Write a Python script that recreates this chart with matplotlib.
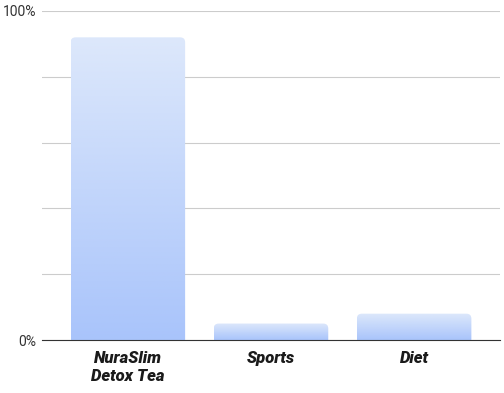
import numpy as np
import matplotlib.pyplot as plt
from matplotlib.patches import FancyBboxPatch
from matplotlib.colors import LinearSegmentedColormap
from matplotlib.ticker import FixedLocator

# data
categories = ['NuraSlim\nDetox Tea', 'Sports', 'Diet']
values = [92, 5, 8]

plt.rcParams['font.family'] = ['Roboto', 'DejaVu Sans']

fig = plt.figure(figsize=(5.04, 3.93), dpi=100)
ax = fig.add_axes([42 / 504, 1 - 340 / 393, 458 / 504, 329 / 393])
ax.set_xlim(-0.6, 2.6)
ax.set_ylim(0, 100)

bars = ax.bar(range(len(values)), values, width=0.8, color='none')

grad = LinearSegmentedColormap.from_list('g', ['#a9c4fb', '#dde8fb'])
# pixels per data unit, to keep rounded corners circular
xpp = 458 / 3.2
ypp = 329 / 100
r = 5 / xpp
for b in bars:
    x0, w, h = b.get_x(), b.get_width(), b.get_height()
    clip = FancyBboxPatch((x0, -10), w, h + 10,
                          boxstyle='round,pad=0,rounding_size=%f' % r,
                          mutation_aspect=xpp / ypp,
                          transform=ax.transData, facecolor='none', edgecolor='none')
    ax.add_patch(clip)
    img = ax.imshow(np.linspace(0, 1, 256).reshape(-1, 1), cmap=grad, origin='lower',
                    extent=[x0, x0 + w, 0, h], aspect='auto', zorder=2)
    img.set_clip_path(clip)

ax.set_xticks(range(len(categories)))
ax.set_xticklabels(categories, fontsize=12, fontweight='heavy', style='italic',
                   color='#1a1a1a', linespacing=1.2)
ax.yaxis.set_major_locator(FixedLocator([0, 20, 40, 60, 80, 100]))
ax.set_yticklabels(['0%', '', '', '', '', '100%'], fontsize=10, color='#333333')
ax.tick_params(axis='both', length=0)
ax.tick_params(axis='x', pad=8)
ax.tick_params(axis='y', pad=4)
ax.grid(axis='y', color='#cccccc', linewidth=0.8)
ax.set_axisbelow(True)
for s in ['top', 'right', 'left']:
    ax.spines[s].set_visible(False)
ax.spines['bottom'].set_color('#333333')
ax.spines['bottom'].set_zorder(3)

fig.savefig('out.png', dpi=100)
